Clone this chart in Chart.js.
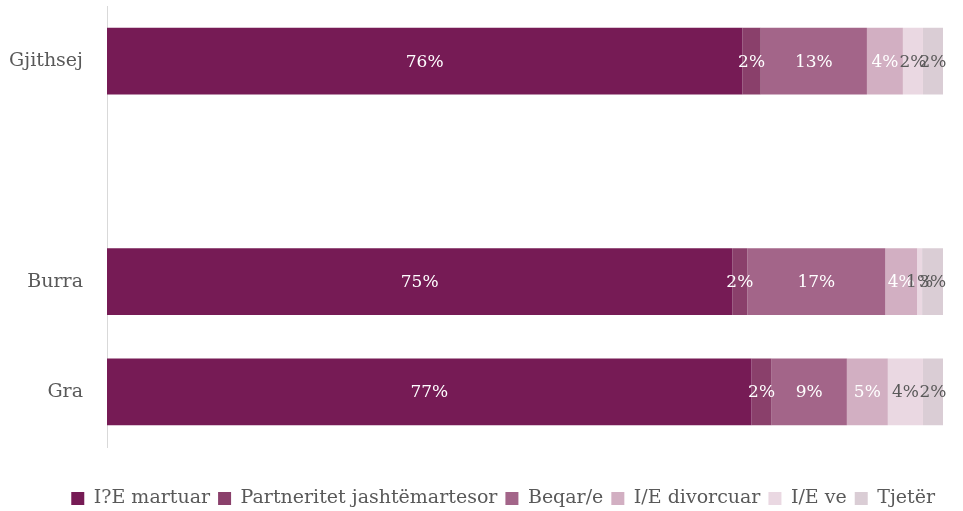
<!DOCTYPE html>
<html>
<head>
<meta charset="utf-8">
<script src="https://cdn.jsdelivr.net/npm/chart.js@4/dist/chart.umd.min.js"></script>
<style>
  html, body { margin: 0; padding: 0; background: #ffffff; overflow: hidden; }
  #wrap { width: 963px; height: 511px; position: relative; }
</style>
</head>
<body>
<div id="wrap"><canvas id="c" width="963" height="511"></canvas></div>
<script>
// Rows of the chart (the blank row separates the total from the breakdown)
const categories = ['Gjithsej', '', 'Burra', 'Gra'];

// Share of each marital status, percent
const seriesNames = ['I?E martuar', 'Partneritet jashtëmartesor', 'Beqar/e', 'I/E divorcuar', 'I/E ve', 'Tjetër'];
const martuar     = [76.0, null, 74.8, 77.1];
const partneritet = [2.2,  null, 1.8,  2.4];
const beqar       = [12.7, null, 16.5, 9.0];
const divorcuar   = [4.3,  null, 3.8,  4.9];
const ve          = [2.4,  null, 0.6,  4.2];
const tjeter      = [2.4,  null, 2.5,  2.4];

const seriesValues = [martuar, partneritet, beqar, divorcuar, ve, tjeter];
const seriesColors = ['#761b55', '#8a406b', '#a36589', '#d2afc2', '#ead8e2', '#dacdd5'];
const labelColors  = ['#ffffff', '#ffffff', '#ffffff', '#ffffff', '#595959', '#595959'];

const FONT = '"DejaVu Serif", "Liberation Serif", serif';

// Percent labels drawn in the middle of each segment
const segmentLabels = {
  id: 'segmentLabels',
  afterDatasetsDraw(chart) {
    const ctx = chart.ctx;
    ctx.save();
    ctx.font = '17px ' + FONT;
    ctx.textAlign = 'center';
    ctx.textBaseline = 'middle';
    chart.data.datasets.forEach((ds, di) => {
      const meta = chart.getDatasetMeta(di);
      if (meta.hidden) return;
      meta.data.forEach((bar, i) => {
        const v = ds.data[i];
        if (v === null || v === undefined) return;
        const x = (bar.x + bar.base) / 2;
        ctx.fillStyle = labelColors[di];
        ctx.fillText(Math.round(v) + '%', x, bar.y + 1);
      });
    });
    ctx.restore();
  }
};

new Chart(document.getElementById('c'), {
  type: 'bar',
  data: {
    labels: categories,
    datasets: seriesNames.map((name, k) => ({
      label: name,
      data: seriesValues[k],
      backgroundColor: seriesColors[k],
      borderWidth: 0,
      barPercentage: 1.0,
      categoryPercentage: 0.606
    }))
  },
  options: {
    indexAxis: 'y',
    responsive: false,
    animation: false,
    layout: { autoPadding: false, padding: { top: 6, right: 20, bottom: -7, left: 0 } },
    scales: {
      x: {
        stacked: true,
        min: 0,
        max: 100,
        grid: { display: false },
        border: { display: false },
        ticks: { display: false },
        afterFit(scale) { scale.height = 34; }
      },
      y: {
        stacked: true,
        grid: { display: false, drawTicks: false },
        border: { display: true, color: '#d9d9d9', width: 1 },
        ticks: {
          color: '#595959',
          padding: 24,
          font: { family: FONT, size: 19 }
        },
        afterFit(scale) {
          scale.width = 107;
          scale.paddingTop = 0;
          scale.paddingBottom = 0;
        }
      }
    },
    plugins: {
      legend: {
        position: 'bottom',
        align: 'end',
        labels: {
          color: '#595959',
          boxWidth: 13,
          boxHeight: 13,
          padding: 8,
          font: { family: FONT, size: 19 }
        }
      },
      tooltip: { enabled: false }
    }
  },
  plugins: [segmentLabels]
});
</script>
</body>
</html>
